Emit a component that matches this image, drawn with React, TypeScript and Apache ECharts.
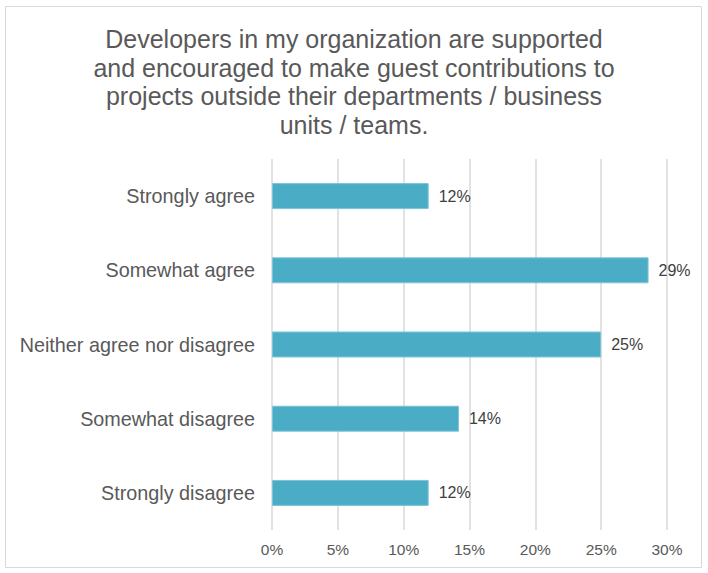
import React, { useEffect, useRef } from "react";
import * as echarts from "echarts";

const titleText =
  "Developers in my organization are supported\nand encouraged to make guest contributions to\nprojects outside their departments / business\nunits / teams.";
const categories = [
  "Strongly agree",
  "Somewhat agree",
  "Neither agree nor disagree",
  "Somewhat disagree",
  "Strongly disagree",
];
const values = [11.9, 28.6, 25.0, 14.2, 11.9];
const tickMin = 0;
const tickMax = 30;
const tickInterval = 5;

export default function App() {
  const ref = useRef<HTMLDivElement>(null);
  useEffect(() => {
    document.body.style.margin = "0";
    const chart = echarts.init(ref.current!, null, { renderer: "svg" });
    chart.setOption({
      animation: false,
      backgroundColor: "#ffffff",
      textStyle: { fontFamily: "Liberation Sans, Arial, sans-serif" },
      title: {
        text: titleText,
        left: "center",
        top: 20,
        textStyle: {
          fontSize: 25,
          fontWeight: "normal",
          color: "#595959",
          lineHeight: 28.5,
          fontFamily: "Liberation Sans, Arial, sans-serif",
          align: "center",
        },
      },
      graphic: [
        {
          type: "rect",
          shape: { x: 5.5, y: 6.5, width: 696, height: 561 },
          style: { fill: "none", stroke: "#d9d9d9", lineWidth: 1 },
          silent: true,
        },
      ],
      grid: { left: 272, right: 41, top: 159, bottom: 43, containLabel: false },
      xAxis: {
        type: "value",
        min: tickMin,
        max: tickMax,
        interval: tickInterval,
        axisLine: { show: false },
        axisTick: { show: false },
        splitLine: { show: true, lineStyle: { color: "#d9d9d9", width: 1.5 } },
        axisLabel: {
          formatter: (v: number) => `${v}%`,
          color: "#595959",
          fontSize: 15.5,
          margin: 11,
        },
      },
      yAxis: {
        type: "category",
        data: categories,
        inverse: true,
        axisLine: { show: false },
        axisTick: { show: false },
        axisLabel: { color: "#595959", fontSize: 19.8, margin: 17 },
      },
      series: [
        {
          type: "bar",
          data: values,
          barCategoryGap: "65%",
          itemStyle: { color: "#4bacc6", borderColor: "#7cc4d8", borderWidth: 1 },
          label: {
            show: true,
            position: "right",
            distance: 10,
            color: "#404040",
            fontSize: 16,
            formatter: (p: any) => `${Math.round(p.value)}%`,
          },
        },
      ],
    });
    return () => chart.dispose();
  }, []);
  return (
    <div
      ref={ref}
      style={{ width: 708, height: 573, position: "absolute", left: 0, top: 0 }}
    />
  );
}
